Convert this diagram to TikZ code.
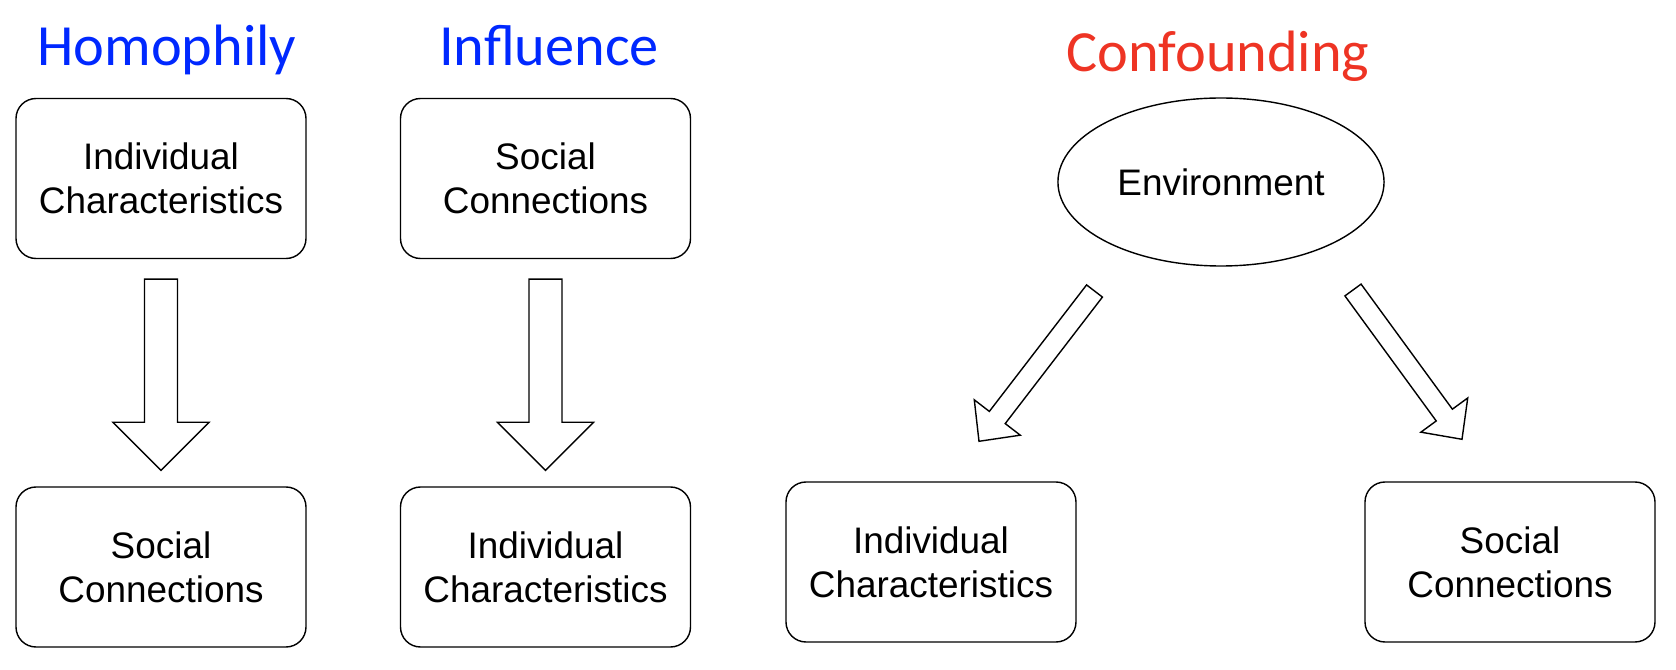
\documentclass[tikz,border=0pt]{standalone}
\usepackage{fontspec}
\setmainfont{Liberation Sans}
\newfontfamily\titlefont{Carlito}
\usetikzlibrary{calc,shapes.geometric}
\definecolor{titleblue}{RGB}{0,40,255}
\definecolor{titlered}{RGB}{238,52,36}
\tikzset{
  factor/.style={draw, rounded corners=0.2cm, minimum width=2.9cm, minimum height=1.6cm, align=center, font=\fontsize{10.5}{12.5}\selectfont},
  cause/.style={draw, ellipse, minimum width=3.26cm, minimum height=1.68cm, font=\fontsize{10.5}{12.5}\selectfont},
  heading/.style={anchor=base, font=\titlefont\fontsize{16.6}{19}\selectfont},
  fat/.style={draw, line width=0.4pt, fill=white, line join=miter}
}
% hollow block arrow: tail, tip, half shaft, half head, head length
\newcommand{\fatarrow}[5]{%
  \coordinate (#1-q) at ($(#2)!#5!(#1)$);
  \draw[fat] ($(#1)!#3!90:(#2)$) -- ($(#1-q)!#3!90:(#2)$) -- ($(#1-q)!#4!90:(#2)$) -- (#2)
    -- ($(#1-q)!#4!-90:(#2)$) -- ($(#1-q)!#3!-90:(#2)$) -- ($(#1)!#3!-90:(#2)$) -- cycle;
}
\begin{document}
\begin{tikzpicture}
        \useasboundingbox (0,0) rectangle (16.76,-6.70);
        % headings
        \node[heading, text=titleblue] (homtitle) at (1.67,-0.66) {Homophily};
        \node[heading, text=titleblue] (inftitle) at (5.49,-0.66) {Influence};
        \node[heading, text=titlered] (contitle) at (12.18,-0.72) {Confounding};
        % homophily
        \node[factor] (homtop) at (1.61,-1.785) {Individual\\Characteristics};
        \node[factor] (hombot) at (1.61,-5.67) {Social\\Connections};
        % influence
        \node[factor] (inftop) at (5.455,-1.785) {Social\\Connections};
        \node[factor] (infbot) at (5.455,-5.67) {Individual\\Characteristics};
        % confounding
        \node[cause] (env) at (12.21,-1.82) {Environment};
        \node[factor] (conleft) at (9.31,-5.62) {Individual\\Characteristics};
        \node[factor] (conright) at (15.10,-5.62) {Social\\Connections};
        % arrows
        \coordinate (homtail) at ($(homtop.south)+(0,-0.2)$);
        \coordinate (homtip) at ($(hombot.north)+(0,0.16)$);
        \coordinate (inftail) at ($(inftop.south)+(0,-0.2)$);
        \coordinate (inftip) at ($(infbot.north)+(0,0.16)$);
        \coordinate (lefttail) at ($(env)+(-1.265,-1.09)$);
        \coordinate (lefttip) at ($(conleft.north)+(0.48,0.40)$);
        \coordinate (righttail) at ($(env)+(1.32,-1.08)$);
        \coordinate (righttip) at ($(conright.north)+(-0.48,0.42)$);
        \fatarrow{homtail}{homtip}{0.165cm}{0.48cm}{0.48cm}
        \fatarrow{inftail}{inftip}{0.165cm}{0.48cm}{0.48cm}
        \fatarrow{lefttail}{lefttip}{0.1cm}{0.29cm}{0.3cm}
        \fatarrow{righttail}{righttip}{0.1cm}{0.29cm}{0.3cm}
\end{tikzpicture}
\end{document}
